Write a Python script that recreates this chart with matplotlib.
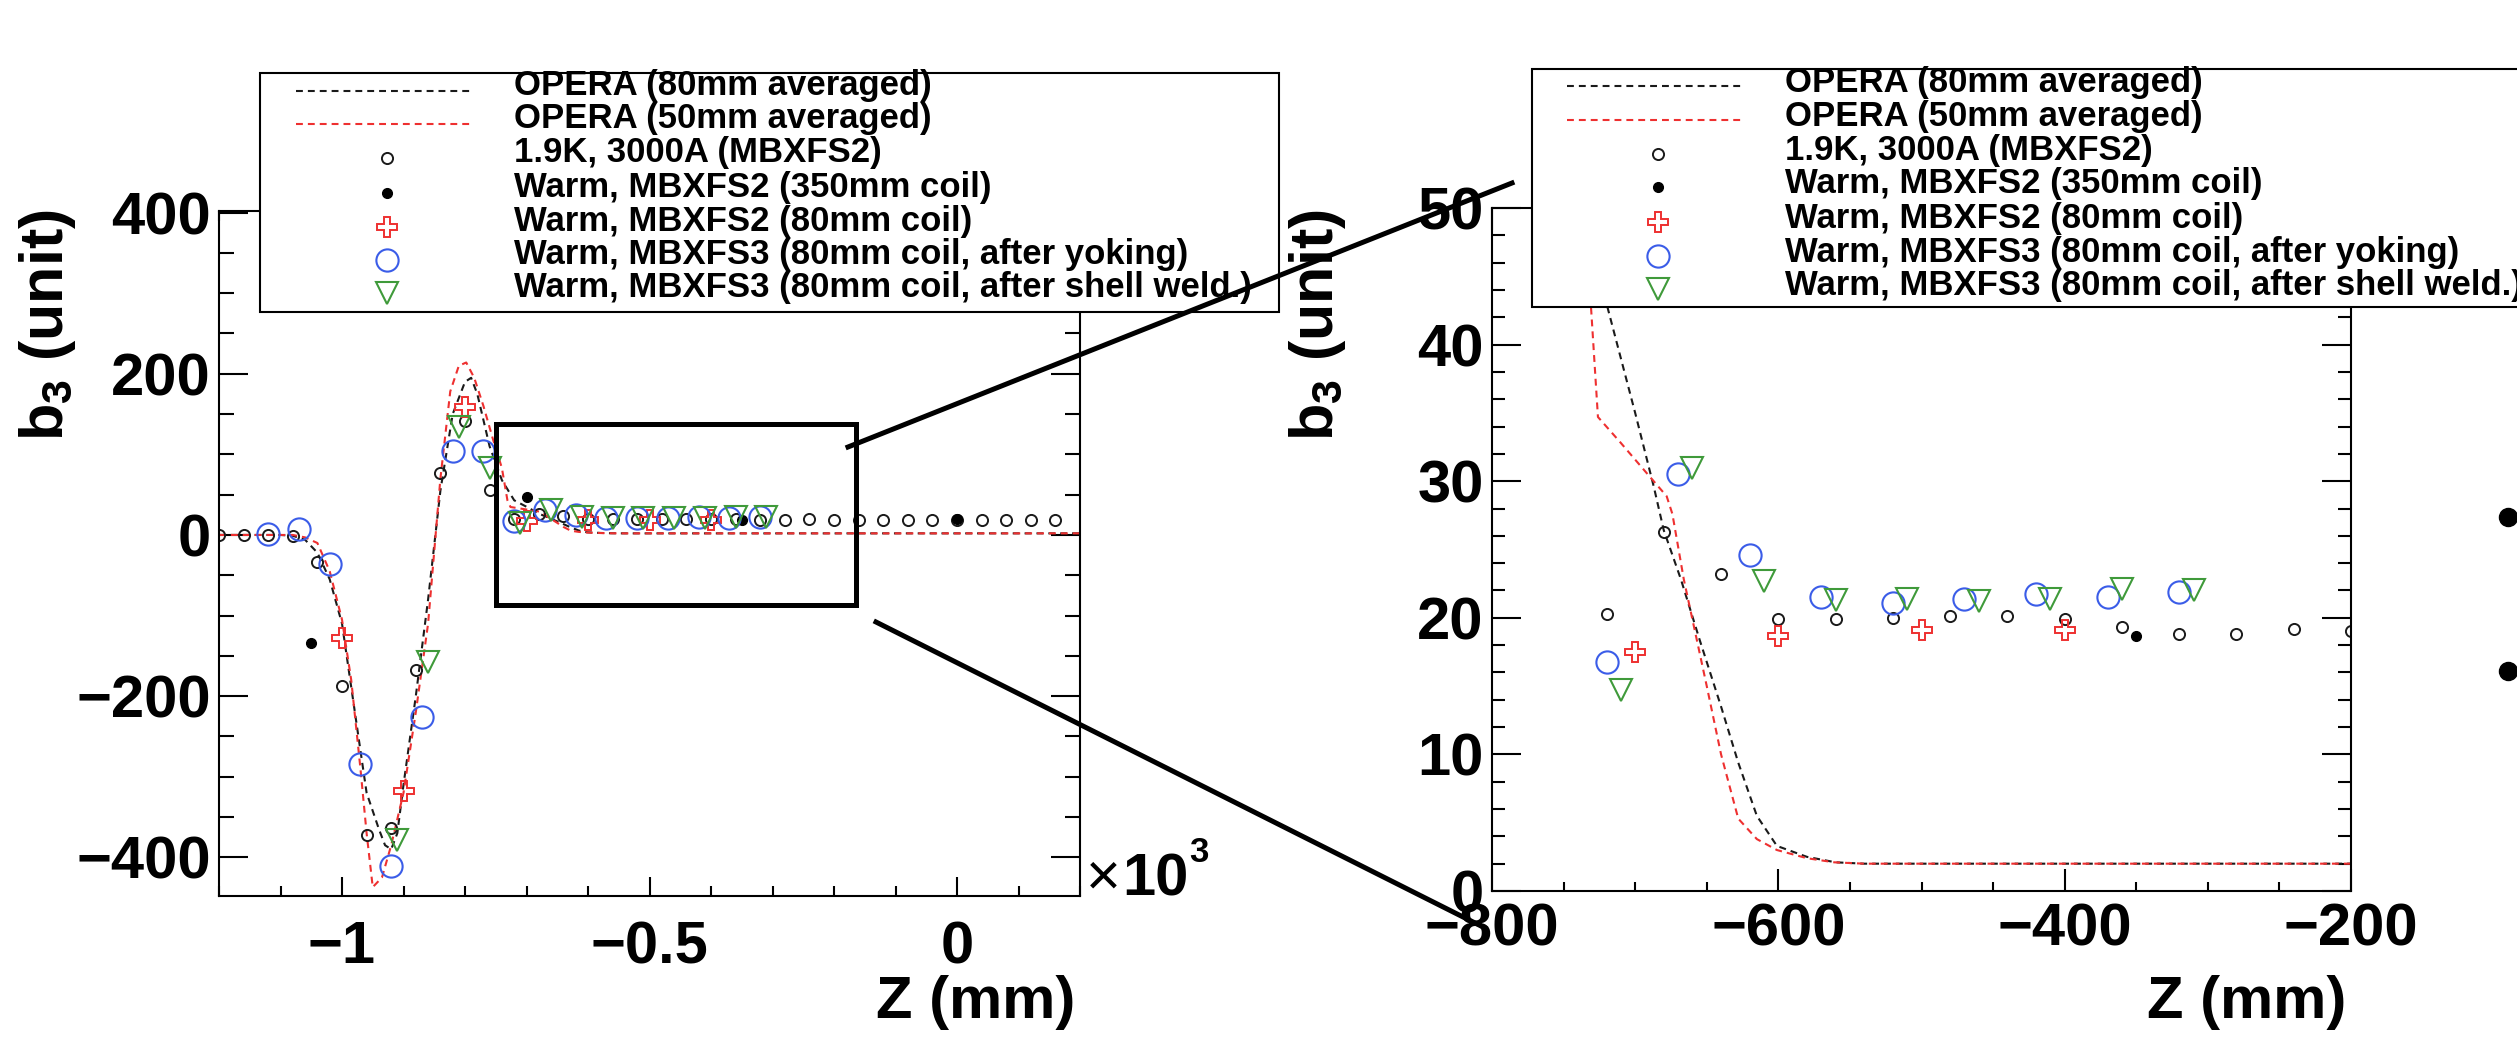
import matplotlib
matplotlib.use('Agg')
import matplotlib.pyplot as plt
from matplotlib.lines import Line2D
from matplotlib.patches import Rectangle
from matplotlib.ticker import MultipleLocator, FuncFormatter

plt.rcParams['font.family'] = ['Liberation Sans', 'DejaVu Sans']
plt.rcParams['font.weight'] = 'bold'
plt.rcParams['mathtext.fontset'] = 'custom'
plt.rcParams['mathtext.rm'] = 'Liberation Sans'
plt.rcParams['mathtext.it'] = 'Liberation Sans'
plt.rcParams['mathtext.bf'] = 'Liberation Sans:bold'

W, H = 2517, 1049

# OPERA simulations (b3 in units, z in mm)
opera80_z = [-1200, -1100, -1080, -1060, -1040, -1020, -1000, -980, -960, -940, -930, -920, -910, -900,
             -880, -860, -840, -820, -800, -790, -780, -760, -740, -720, -700, -687, -680, -668, -655,
             -640, -628, -615, -601, -580, -560, -540, 200]
opera80_b3 = [0, 0, -1, -6, -22, -55, -110, -215, -320, -365, -385, -390, -370, -310,
              -200, -80, 55, 150, 190, 195, 175, 110, 68, 43, 35, 29.6, 26.4, 22.8, 18.4,
              13.5, 9.4, 5.5, 3.3, 2.5, 2.1, 2.0, 2.0]
opera50_z = [-1200, -1080, -1060, -1040, -1020, -1000, -985, -970, -960, -950, -935, -920, -900, -880,
             -860, -840, -824, -810, -798, -785, -770, -755, -740, -731, -726, -710, -692, -678, -674,
             -666, -650, -640, -628, -615, -601, -580, -561, -540, 200]
opera50_b3 = [0, 0, -3, -10, -45, -105, -180, -290, -370, -437, -425, -385, -320, -220,
              -110, 70, 178, 210, 214, 195, 160, 120, 83, 43, 34.7, 32.8, 30.6, 28.9, 27.6,
              22.8, 15, 10, 5.3, 3.8, 3.0, 2.4, 2.1, 2.0, 2.0]

# 1.9K, 3000A (MBXFS2)
cold_z = [-1200, -1160, -1120, -1080, -1040, -1000, -960, -920, -880, -840, -800, -760,
          -720, -680, -640, -600, -560, -520, -480, -440, -400, -360, -320, -280, -240,
          -200, -160, -120, -80, -40, 0, 40, 80, 120, 160]
cold_b3 = [0, 0, 0, -1, -33, -187, -372, -364, -167, 77, 142, 56,
           20.3, 26.3, 23.2, 19.9, 19.9, 19.95, 20.1, 20.1, 19.9, 19.3, 18.8, 18.8, 19.2,
           19.0, 19.0, 19.0, 19.0, 19.0, 19.0, 19.0, 19.0, 19.0, 19.0]
# Warm, MBXFS2 (350mm coil)
warm350_z = [-1050, -700, -350, 0]
warm350_b3 = [-134, 47, 18.7, 19.3]
# Warm, MBXFS2 (80mm coil)
warm80_z = [-1000, -900, -800, -700, -600, -500, -400]
warm80_b3 = [-128, -318, 159, 17.5, 18.7, 19.1, 19.1]
# Warm, MBXFS3 (80mm coil, after yoking)
yoke_z = [-1120, -1070, -1020, -970, -920, -870, -820, -770, -720, -670, -620, -570, -520,
          -470, -420, -370, -320]
yoke_b3 = [1, 7, -36, -284, -411, -226, 104, 104, 16.8, 30.5, 24.6, 21.5, 21.1,
           21.4, 21.75, 21.5, 21.9]
# Warm, MBXFS3 (80mm coil, after shell weld.)
weld_z = [-910, -860, -810, -760, -710, -660, -610, -560, -510, -460, -410, -360, -310]
weld_b3 = [-378, -158, 134, 83, 14.7, 31.0, 22.7, 21.3, 21.35, 21.2, 21.35, 22.1, 22.0]

labels = ['OPERA (80mm averaged)', 'OPERA (50mm averaged)', '1.9K, 3000A (MBXFS2)',
          'Warm, MBXFS2 (350mm coil)', 'Warm, MBXFS2 (80mm coil)',
          'Warm, MBXFS3 (80mm coil, after yoking)', 'Warm, MBXFS3 (80mm coil, after shell weld.)']

RED = '#ee3030'
BLUE = '#3a5ce8'
GREEN = '#3f9a3a'
DASH = (0, (3.3, 2.4))

styles = [
    dict(color='#1a1a1a', lw=1.5, ls=DASH),
    dict(color=RED, lw=1.5, ls=DASH),
    dict(ls='none', marker='o', ms=8, mfc='none', mec='#1a1a1a', mew=1.4),
    dict(ls='none', marker='o', ms=7, mfc='black', mec='black'),
    dict(ls='none', marker='P', ms=15, mfc='none', mec=RED, mew=1.4),
    dict(ls='none', marker='o', ms=16, mfc='none', mec=BLUE, mew=1.5),
    dict(ls='none', marker='v', ms=16, mfc='none', mec=GREEN, mew=1.5),
]
series = [(opera80_z, opera80_b3), (opera50_z, opera50_b3), (cold_z, cold_b3),
          (warm350_z, warm350_b3), (warm80_z, warm80_b3), (yoke_z, yoke_b3), (weld_z, weld_b3)]


def fx(x):
    return x / W


def fy(y):
    return 1 - y / H


def draw_series(ax):
    for (z, b3), st in zip(series, styles):
        ax.plot(z, b3, **st)


def style_axis(ax, xpad, ylen, xlen):
    for s in ax.spines.values():
        s.set_linewidth(1.5)
    ax.tick_params(which='both', direction='in', top=True, right=True, width=1.5, labelsize=43)
    ax.tick_params(axis='y', which='major', length=ylen[0], pad=6)
    ax.tick_params(axis='y', which='minor', length=ylen[1])
    ax.tick_params(axis='x', which='major', length=xlen[0], pad=xpad)
    ax.tick_params(axis='x', which='minor', length=xlen[1])


def draw_legend(fig, box, line_x, marker_x, text_x, rows, base_off):
    x0, y0, x1, y1 = box
    fig.add_artist(Rectangle((fx(x0), fy(y1)), fx(x1) - fx(x0), fy(y0) - fy(y1),
                             transform=fig.transFigure, facecolor='white',
                             edgecolor='black', lw=1.5, zorder=5))
    for i, (lab, st) in enumerate(zip(labels, styles)):
        ry = rows[i]
        if st.get('ls') == 'none':
            xs, ys = [fx(marker_x)], [fy(ry)]
        else:
            xs, ys = [fx(line_x[0]), fx(line_x[1])], [fy(ry), fy(ry)]
        fig.add_artist(Line2D(xs, ys, transform=fig.transFigure, zorder=6, **st))
        fig.text(fx(text_x), fy(ry + base_off), lab, fontsize=25, ha='left',
                 va='baseline', zorder=7)


fig = plt.figure(figsize=(W / 100, H / 100), dpi=100)

# full view
ax1 = fig.add_axes([fx(219), fy(896), fx(1080) - fx(219), fy(211) - fy(896)])
draw_series(ax1)
ax1.set_xlim(-1200, 200)
ax1.set_ylim(-448, 402)
ax1.xaxis.set_major_locator(MultipleLocator(500))
ax1.xaxis.set_minor_locator(MultipleLocator(100))
ax1.yaxis.set_major_locator(MultipleLocator(200))
ax1.yaxis.set_minor_locator(MultipleLocator(50))
ax1.xaxis.set_major_formatter(FuncFormatter(lambda v, p: f'{v / 1000:g}'.replace('-', '\u2212')))
style_axis(ax1, 17.5, (21, 10.8), (13.7, 7.2))
ax1.add_patch(Rectangle((-750, -87), 585, 225, fill=False, ec='black', lw=3.6, zorder=4))

# zoomed view
ax2 = fig.add_axes([fx(1492), fy(891), fx(2351) - fx(1492), fy(208) - fy(891)])
draw_series(ax2)
ax2.set_xlim(-800, -200)
ax2.set_ylim(0, 50)
ax2.xaxis.set_major_locator(MultipleLocator(200))
ax2.xaxis.set_minor_locator(MultipleLocator(50))
ax2.yaxis.set_major_locator(MultipleLocator(10))
ax2.yaxis.set_minor_locator(MultipleLocator(2))
ax2.xaxis.set_major_formatter(FuncFormatter(lambda v, p: f'{v:g}'.replace('-', '\u2212')))
style_axis(ax2, 8, (21, 9.4), (16, 6.5))

# axis titles
for xl, xr in [(48, 1080), (1318, 2351)]:
    fig.text(fx(xl), fy(209), 'b$_3$ (unit)', rotation=90, ha='center', va='top', fontsize=44)
    fig.text(fx(xr - 5), fy(1003), 'Z (mm)', ha='right', va='center', fontsize=43)

# x10^3 multiplier
fig.text(fx(1086), fy(895), '\u00d7', fontsize=43, fontweight='normal', va='baseline')
fig.text(fx(1122), fy(895), '10', fontsize=43, va='baseline')
fig.text(fx(1189), fy(862), '3', fontsize=25, va='baseline')

draw_legend(fig, (260, 73, 1279, 312), (296, 474), 387, 514,
            [91, 124, 158, 193, 227, 260, 293], 4)
draw_legend(fig, (1532, 69, 2540, 307), (1567, 1745), 1658, 1785,
            [86, 120, 154, 187, 222, 256, 289], 6)

# connectors from the zoom box to the zoomed panel
fig.add_artist(Line2D([fx(848), fx(1512)], [fy(447), fy(183)], transform=fig.transFigure,
                      color='black', lw=3.6, zorder=10))
fig.add_artist(Line2D([fx(876), fx(1485)], [fy(622), fy(928)], transform=fig.transFigure,
                      color='black', lw=3.6, zorder=10))

# cut-off neighbour legend on the right edge
for yy in [517, 671]:
    fig.add_artist(Line2D([fx(2508)], [fy(yy)], transform=fig.transFigure, marker='o',
                          ms=13, color='black', ls='none'))

fig.savefig('out.png', dpi=100)
